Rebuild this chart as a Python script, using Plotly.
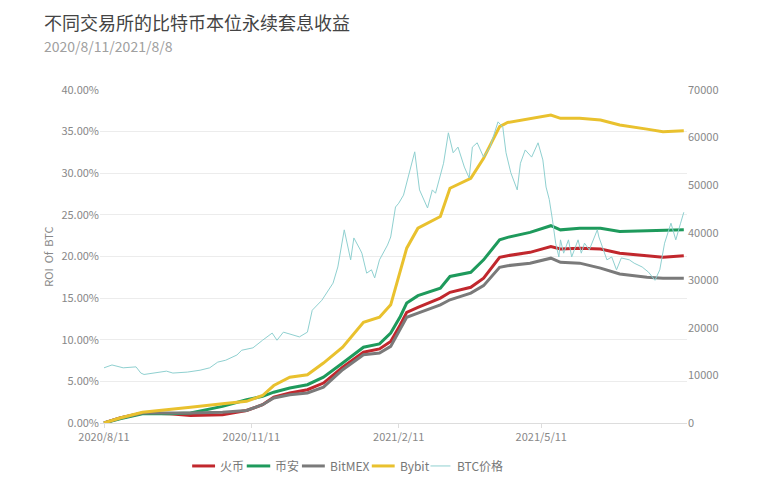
import plotly.graph_objects as go

# ---- data ----
roi_dates = ["2020-08-11", "2020-08-21", "2020-09-04", "2020-09-21", "2020-10-04", "2020-10-24",
             "2020-11-08", "2020-11-18", "2020-11-25", "2020-12-05", "2020-12-16", "2020-12-26",
             "2021-01-07", "2021-01-20", "2021-01-30", "2021-02-06", "2021-02-12", "2021-02-16",
             "2021-02-23", "2021-03-09", "2021-03-15", "2021-03-28", "2021-04-05", "2021-04-15",
             "2021-04-20", "2021-05-04", "2021-05-17", "2021-05-23", "2021-06-04", "2021-06-17",
             "2021-06-29", "2021-07-16", "2021-07-26", "2021-08-08"]

huobi = [0.0, 0.6, 1.2, 1.1, 0.9, 1.0, 1.5, 2.2, 3.1, 3.6, 4.0, 4.8, 6.7, 8.5, 8.9, 9.8, 11.8, 13.3,
         13.9, 15.0, 15.7, 16.3, 17.4, 19.9, 20.1, 20.5, 21.2, 20.9, 21.0, 20.9, 20.4, 20.1, 19.9, 20.1]
binance = [0.0, 0.5, 1.1, 1.1, 1.2, 2.0, 2.8, 3.2, 3.7, 4.2, 4.6, 5.5, 7.2, 9.1, 9.5, 10.8, 12.8, 14.4,
           15.3, 16.2, 17.6, 18.1, 19.6, 22.0, 22.3, 22.9, 23.7, 23.2, 23.4, 23.4, 23.0, 23.1, 23.1, 23.2]
bitmex = [0.0, 0.6, 1.2, 1.2, 1.2, 1.3, 1.5, 2.2, 3.0, 3.4, 3.6, 4.3, 6.4, 8.2, 8.4, 9.2, 11.2, 12.7,
          13.2, 14.2, 14.8, 15.6, 16.5, 18.7, 18.9, 19.2, 19.8, 19.3, 19.2, 18.6, 17.9, 17.5, 17.4, 17.4]
bybit = [0.0, 0.6, 1.3, 1.6, 1.9, 2.3, 2.6, 3.3, 4.5, 5.5, 5.8, 7.2, 9.1, 12.1, 12.7, 14.2, 18.2, 21.0,
         23.4, 24.8, 28.2, 29.4, 31.8, 35.6, 36.1, 36.6, 37.0, 36.6, 36.6, 36.4, 35.8, 35.3, 35.0, 35.1]

btc_dates = ["2020-08-11", "2020-08-16", "2020-08-23", "2020-08-31", "2020-09-03", "2020-09-05",
             "2020-09-19", "2020-09-23", "2020-10-02", "2020-10-10", "2020-10-16", "2020-10-21",
             "2020-10-26", "2020-11-02", "2020-11-05", "2020-11-12", "2020-11-18", "2020-11-24",
             "2020-11-27", "2020-12-01", "2020-12-07", "2020-12-11", "2020-12-16", "2020-12-19",
             "2020-12-25", "2021-01-01", "2021-01-04", "2021-01-08", "2021-01-12", "2021-01-14",
             "2021-01-18", "2021-01-19", "2021-01-22", "2021-01-25", "2021-01-27", "2021-01-30",
             "2021-02-04", "2021-02-06", "2021-02-09", "2021-02-11", "2021-02-14", "2021-02-17",
             "2021-02-21", "2021-02-24", "2021-03-01", "2021-03-04", "2021-03-06", "2021-03-11",
             "2021-03-14", "2021-03-17", "2021-03-20", "2021-03-24", "2021-03-27", "2021-03-29",
             "2021-04-01", "2021-04-05", "2021-04-09", "2021-04-14", "2021-04-17", "2021-04-19",
             "2021-04-22", "2021-04-26", "2021-04-28", "2021-05-01", "2021-05-05", "2021-05-09",
             "2021-05-12", "2021-05-14", "2021-05-16", "2021-05-18", "2021-05-20", "2021-05-22",
             "2021-05-23", "2021-05-25", "2021-05-28", "2021-05-30", "2021-06-03", "2021-06-05",
             "2021-06-07", "2021-06-10", "2021-06-15", "2021-06-16", "2021-06-21", "2021-06-24",
             "2021-06-27", "2021-06-30", "2021-07-05", "2021-07-08", "2021-07-13", "2021-07-17",
             "2021-07-21", "2021-07-24", "2021-07-27", "2021-07-31", "2021-08-03", "2021-08-06",
             "2021-08-08"]
btc_price = [11600, 12200, 11600, 11800, 10500, 10200,
             10900, 10500, 10700, 11100, 11600, 12800,
             13200, 14300, 15300, 15800, 17400, 18900,
             17400, 19100, 18500, 18100, 19100, 23700,
             25800, 29400, 32800, 40600, 34300, 38900,
             36400, 35700, 31500, 32200, 30500, 34300,
             37400, 39100, 45400, 46200, 47900, 51700,
             57000, 49000, 45200, 49000, 48300, 54600,
             61000, 56800, 58000, 53800, 51500, 58000,
             58900, 55900, 58000, 63300, 62200, 56800,
             52600, 49000, 54600, 57400, 55900, 58900,
             55300, 49600, 47000, 42700, 37800, 34900,
             38500, 35700, 38500, 34900, 38500, 35700,
             37800, 36400, 40600, 39100, 34300, 34900,
             32200, 34700, 34300, 33600, 32800, 31700,
             30000, 32200, 37800, 42000, 38500, 42000,
             44300]

tick_vals = ["2020-08-11", "2020-11-11", "2021-02-11", "2021-05-11"]
tick_text = ["2020/8/11", "2020/11/11", "2021/2/11", "2021/5/11"]

title_text = "不同交易所的比特币本位永续套息收益"
subtitle_text = "2020/8/11/2021/8/8"

FONT = "Noto Sans CJK SC, Noto Sans, sans-serif"

series_names = ["火币", "币安", "BitMEX", "Bybit"]
series_vals = [huobi, binance, bitmex, bybit]
series_colors = ["#c1272d", "#1e9a5c", "#7a7a7a", "#e9c12e"]
btc_name = "BTC价格"
btc_color = "#8fd0d0"

fig = go.Figure()
for name, vals, color in zip(series_names, series_vals, series_colors):
    fig.add_trace(go.Scatter(x=roi_dates, y=vals, name=name, mode="lines",
                             line=dict(color=color, width=3)))
fig.add_trace(go.Scatter(x=btc_dates, y=btc_price, name=btc_name, mode="lines", yaxis="y2",
                         line=dict(color=btc_color, width=1)))

# compact legend (line segment + label), like the reference
leg_y = -0.129
leg_seg = [(0.157, 0.196), (0.250, 0.290), (0.344, 0.383), (0.463, 0.502), (0.563, 0.597)]
leg_txt_x = [0.201, 0.295, 0.388, 0.508, 0.605]
leg_names = series_names + [btc_name]
leg_colors = series_colors + [btc_color]
leg_widths = [3, 3, 3, 3, 1]
shapes = []
annotations = []
for (x0, x1), tx, nm, col, w in zip(leg_seg, leg_txt_x, leg_names, leg_colors, leg_widths):
    shapes.append(dict(type="line", xref="paper", yref="paper", x0=x0, x1=x1, y0=leg_y, y1=leg_y,
                       line=dict(color=col, width=w)))
    annotations.append(dict(text=nm, xref="paper", yref="paper", x=tx, y=leg_y,
                            xanchor="left", yanchor="middle", showarrow=False,
                            font=dict(size=12, color="#777777", family=FONT)))

annotations += [
    dict(text=title_text, xref="paper", yref="paper", x=-0.099, y=1.204,
         xanchor="left", yanchor="middle", showarrow=False,
         font=dict(size=18, color="#444444", family=FONT)),
    dict(text=subtitle_text, xref="paper", yref="paper", x=-0.099, y=1.132,
         xanchor="left", yanchor="middle", showarrow=False,
         font=dict(size=14, color="#a0a0a0", family=FONT)),
    dict(text="ROI  Of  BTC", xref="paper", yref="paper", x=-0.09, y=0.5,
         xanchor="center", yanchor="middle", textangle=-90, showarrow=False,
         font=dict(size=11, color="#888888", family=FONT)),
]

fig.update_layout(
    width=752, height=480,
    margin=dict(l=92, r=73, t=82, b=65),
    paper_bgcolor="white", plot_bgcolor="white",
    font=dict(family=FONT, size=11, color="#888888"),
    showlegend=False,
    xaxis=dict(type="date", range=["2020-08-08 12:00", "2021-08-10"],
               tickvals=tick_vals, ticktext=tick_text, showgrid=False,
               showline=True, linecolor="#dddddd", ticks="outside", tickcolor="#dddddd",
               ticklen=4, tickfont=dict(size=11, color="#888888"), zeroline=False),
    yaxis=dict(range=[0, 40], dtick=5, tickformat=".2f", ticksuffix="%",
               showgrid=True, gridcolor="#ececec", zeroline=False,
               tickfont=dict(size=11, color="#888888")),
    yaxis2=dict(range=[0, 70000], dtick=10000, overlaying="y", side="right",
                showgrid=False, zeroline=False, tickformat="d",
                tickfont=dict(size=11, color="#888888")),
    shapes=shapes,
    annotations=annotations,
)

fig.write_html("out.html")
